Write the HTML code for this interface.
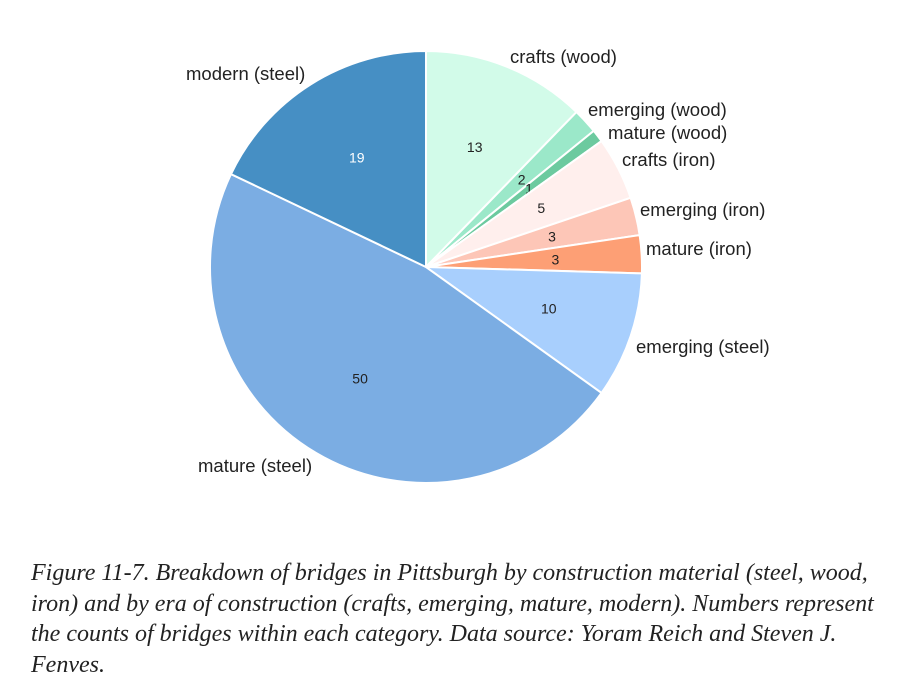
<!DOCTYPE html>
<html><head><meta charset="utf-8"><style>
body{margin:0;background:#fff;width:906px;height:688px;overflow:hidden;font-family:"Liberation Sans",sans-serif}
#cap{position:absolute;left:31px;top:558px;width:880px;white-space:nowrap;font-family:"Liberation Serif",serif;font-style:italic;font-size:24px;line-height:30.5px;color:#222}
</style></head><body>
<svg id="chart" width="906" height="540" style="position:absolute;left:0;top:0"></svg>
<div id="cap">Figure 11-7. Breakdown of bridges in Pittsburgh by construction material (steel, wood,<br>iron) and by era of construction (crafts, emerging, mature, modern). Numbers represent<br>the counts of bridges within each category. Data source: Yoram Reich and Steven J.<br>Fenves.</div>
<script>
const categories=["crafts (wood)","emerging (wood)","mature (wood)","crafts (iron)","emerging (iron)","mature (iron)","emerging (steel)","mature (steel)","modern (steel)"];
const values=[13,2,1,5,3,3,10,50,19];
const colors=["#d2fbe9","#9be8c9","#6cca9f","#ffefed","#fdc6b7","#fd9f75","#a8cffd","#7badE3","#468fc4"];
const labelPos=[[510,63,"start"],[588,116,"start"],[608,139,"start"],[622,166,"start"],[640,216,"start"],[646,255,"start"],[636,353,"start"],[198,472,"start"],[186,80,"start"]];
const NS="http://www.w3.org/2000/svg";
const svg=document.getElementById("chart");
const cx=426,cy=267,r=216;
const total=values.reduce((a,b)=>a+b,0);
function pt(a,rr){return [cx+rr*Math.sin(a),cy-rr*Math.cos(a)];}
let acc=0;
values.forEach((v,i)=>{
  const a0=acc/total*2*Math.PI;acc+=v;const a1=acc/total*2*Math.PI;
  const p0=pt(a0,r),p1=pt(a1,r);
  const path=document.createElementNS(NS,"path");
  path.setAttribute("d",`M${cx},${cy}L${p0[0]},${p0[1]}A${r},${r} 0 ${a1-a0>Math.PI?1:0} 1 ${p1[0]},${p1[1]}Z`);
  path.setAttribute("fill",colors[i]);path.setAttribute("stroke","#fff");path.setAttribute("stroke-width","2");
  
  
  svg.appendChild(path);
  const am=(a0+a1)/2,lp=pt(am,r*0.6);
  const t=document.createElementNS(NS,"text");
  t.setAttribute("x",lp[0]);t.setAttribute("y",lp[1]+5);t.setAttribute("text-anchor","middle");
  t.setAttribute("font-size","14");t.setAttribute("fill",i===8?"#fff":"#222");t.textContent=v;
  
  
  svg.appendChild(t);
});
categories.forEach((c,i)=>{
  const t=document.createElementNS(NS,"text");
  t.setAttribute("x",labelPos[i][0]);t.setAttribute("y",labelPos[i][1]);t.setAttribute("text-anchor",labelPos[i][2]);
  t.setAttribute("font-size","18.5");t.setAttribute("fill","#222");t.textContent=c;
  
  
  svg.appendChild(t);
});
</script>
</body></html>
